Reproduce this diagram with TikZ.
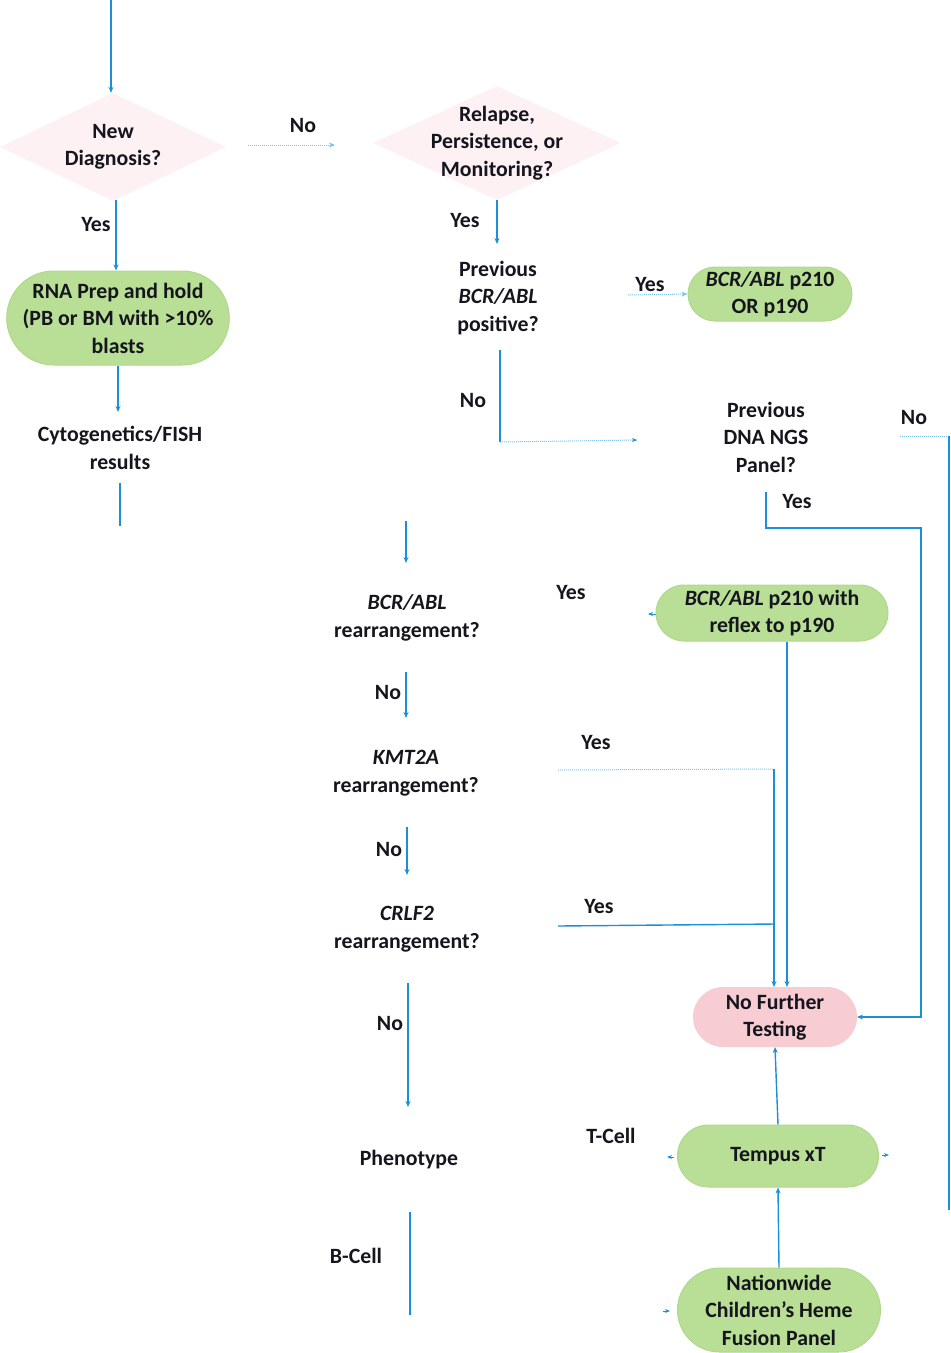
\documentclass[tikz,border=0pt]{standalone}
\usepackage{fontspec}
\setmainfont{Carlito}
\usetikzlibrary{shapes.geometric,shapes.misc,arrows.meta,calc}
\definecolor{flowblue}{HTML}{1C8FD9}
\definecolor{dotblue}{HTML}{7CC3EA}
\definecolor{pillgreen}{HTML}{B9DE95}
\definecolor{pillgreenedge}{HTML}{B0D88A}
\definecolor{pillpink}{HTML}{F7CDD3}
\definecolor{diapink}{HTML}{FDF1F4}
\definecolor{txtdark}{HTML}{15151E}
\tikzset{
  base/.style={font=\bfseries\fontsize{21.8}{27.5}\selectfont, text=txtdark, align=center},
  txt/.style={base, inner sep=0pt},
  lbl/.style={base, inner sep=0pt},
  pill/.style={base, rounded rectangle, fill=pillgreen, draw=pillgreenedge, line width=1pt, inner sep=0pt},
  pinkpill/.style={pill, fill=pillpink, draw=pillpink},
  dia/.style={diamond, fill=diapink, draw=none, inner sep=0pt},
  flow/.style={draw=flowblue, line width=1.4pt, -{Stealth[length=6pt,width=5pt]}},
  plain/.style={draw=flowblue, line width=1.4pt},
  dflow/.style={draw=dotblue, line width=1pt, densely dotted, -{Stealth[length=6pt,width=5pt]}},
  dplain/.style={draw=dotblue, line width=1pt, densely dotted},
  tip/.style={draw=flowblue, line width=1pt, -{Stealth[length=5pt,width=4pt]}},
}
\begin{document}
\begin{tikzpicture}[x=1pt,y=-1pt]
\useasboundingbox (0,0) rectangle (951,1353);

% decision diamonds
\node[dia, minimum width=226pt, minimum height=108pt] (ndD) at (113,147) {};
\node[txt] (nd) at (113,147) {New\\Diagnosis?};
\node[dia, minimum width=248pt, minimum height=114pt] (relD) at (497,143) {};
\node[txt] (rel) at (497,143) {Relapse,\\Persistence, or\\Monitoring?};

% pills
\node[pill, minimum width=220pt, minimum height=94pt] (rna) at (118,318) {RNA Prep and hold\\(PB or BM with >10\%\\blasts};
\node[pill, minimum width=164pt, minimum height=54pt] (p210) at (770,294) {\textit{BCR/ABL} p210\\OR p190};
\node[pill, minimum width=232pt, minimum height=56pt] (reflex) at (772,613) {\textit{BCR/ABL} p210 with\\reflex to p190};
\node[pinkpill, minimum width=163pt, minimum height=59pt] (nft) at (775,1017) {No Further\\Testing};
\node[pill, minimum width=201pt, minimum height=62pt] (tempus) at (778,1156) {Tempus xT};
\node[pill, minimum width=203pt, minimum height=84pt] (nat) at (779,1310) {Nationwide\\Children's Heme\\Fusion Panel};

% text steps
\node[txt] (cyto) at (120,448) {Cytogenetics/FISH\\results};
\node[txt] (prevbcr) at (498,298) {Previous\\\textit{BCR/ABL}\\positive?};
\node[txt] (prevdna) at (766,437) {Previous\\DNA NGS\\Panel?};
\node[txt] (bcrre) at (407,618) {\textit{BCR/ABL}\\rearrangement?};
\node[txt] (kmt) at (406,773) {\textit{KMT2A}\\rearrangement?};
\node[txt] (crlf) at (407,929) {\textit{CRLF2}\\rearrangement?};
\node[txt] (pheno) at (409,1160) {Phenotype};

% labels
\node[lbl] (l1) at (303,126) {No};
\node[lbl] (l2) at (96,225) {Yes};
\node[lbl] (l3) at (465,221) {Yes};
\node[lbl] (l4) at (650,285) {Yes};
\node[lbl] (l5) at (473,401) {No};
\node[lbl] (l6) at (914,418) {No};
\node[lbl] (l7) at (797,502) {Yes};
\node[lbl] (l8) at (571,593) {Yes};
\node[lbl] (l9) at (388,693) {No};
\node[lbl] (l10) at (596,742) {Yes};
\node[lbl] (l11) at (389,849) {No};
\node[lbl] (l12) at (599,906) {Yes};
\node[lbl] (l13) at (390,1023) {No};
\node[lbl] (l14) at (611,1136) {T-Cell};
\node[lbl] (l15) at (356,1256) {B-Cell};

% free-end coordinates
\coordinate (top) at (111,0);
\coordinate (cytoA) at (120,483);
\coordinate (cytoEnd) at (120,526);
\coordinate (noA) at (248,145);
\coordinate (noB) at (335,145);
\coordinate (yesA) at (628,295);
\coordinate (bcrNoTop) at (500,350);
\coordinate (bcrNoBot) at (500,442);
\coordinate (bcrNoEnd) at (637,440);
\coordinate (dnaNoA) at (900,436);
\coordinate (edgeTop) at (949,436);
\coordinate (edgeBot) at (949,1210);
\coordinate (dnaYesA) at (766,492);
\coordinate (dnaYesB) at (766,528);
\coordinate (dnaYesC) at (921,528);
\coordinate (startB) at (406,521);
\coordinate (reflexTipA) at (656,614);
\coordinate (bcrNoA) at (406,672);
\coordinate (kmtNoA) at (407,827);
\coordinate (kmtA) at (558,770);
\coordinate (kmtB) at (774,769);
\coordinate (crlfA) at (558,926);
\coordinate (crlfB) at (775,924);
\coordinate (crlfNoA) at (408,983);
\coordinate (crlfNoB) at (408,1107);
\coordinate (bcellA) at (410,1212);
\coordinate (bcellB) at (410,1315);

% connectors
\draw[flow] (top) -- (top |- ndD.north);
\draw[dflow] (noA) -- (noB);
\draw[flow] (116,200) -- (116,0 |- rna.north);
\draw[flow] (118,0 |- rna.south) -- (118,412);
\draw[plain] (cytoA) -- (cytoEnd);
\draw[flow] (relD.south) -- (497,244);
\draw[dflow] (yesA) -- (p210.west);
\draw[plain] (bcrNoTop) -- (bcrNoBot);
\draw[dplain] (bcrNoBot) -- (bcrNoEnd);
\draw[tip] ($(bcrNoEnd)+(-4,0)$) -- (bcrNoEnd);
\draw[dplain] (dnaNoA) -- (edgeTop);
\draw[plain] (edgeTop) -- (edgeBot);
\draw[flow] (dnaYesA) -- (dnaYesB) -- (dnaYesC) -- (dnaYesC |- nft.east) -- (nft.east);
\draw[flow] (startB) -- (406,563);
\draw[tip] (reflexTipA) -- ++(-8,0);
\draw[flow] (787,0 |- reflex.south) -- (787,0 |- nft.north);
\draw[flow] (bcrNoA) -- (406,718);
\draw[dplain] (kmtA) -- (kmtB);
\draw[flow] (kmtB) -- (774,0 |- nft.north);
\draw[flow] (kmtNoA) -- (407,875);
\draw[plain] (crlfA) -- (crlfB);
\draw[flow] (crlfNoA) -- (crlfNoB);
\draw[flow] (tempus.north) -- (nft.south);
\draw[flow] (nat.north) -- (tempus.south);
\draw[plain] (bcellA) -- (bcellB);
\draw[tip] ($(tempus.west)+(-3,1)$) -- ++(-7,0);
\draw[tip] ($(tempus.east)+(3,-1)$) -- ++(7,0);
\draw[tip] ($(nat.west)+(-14,1)$) -- ++(7,0);
\end{tikzpicture}
\end{document}
